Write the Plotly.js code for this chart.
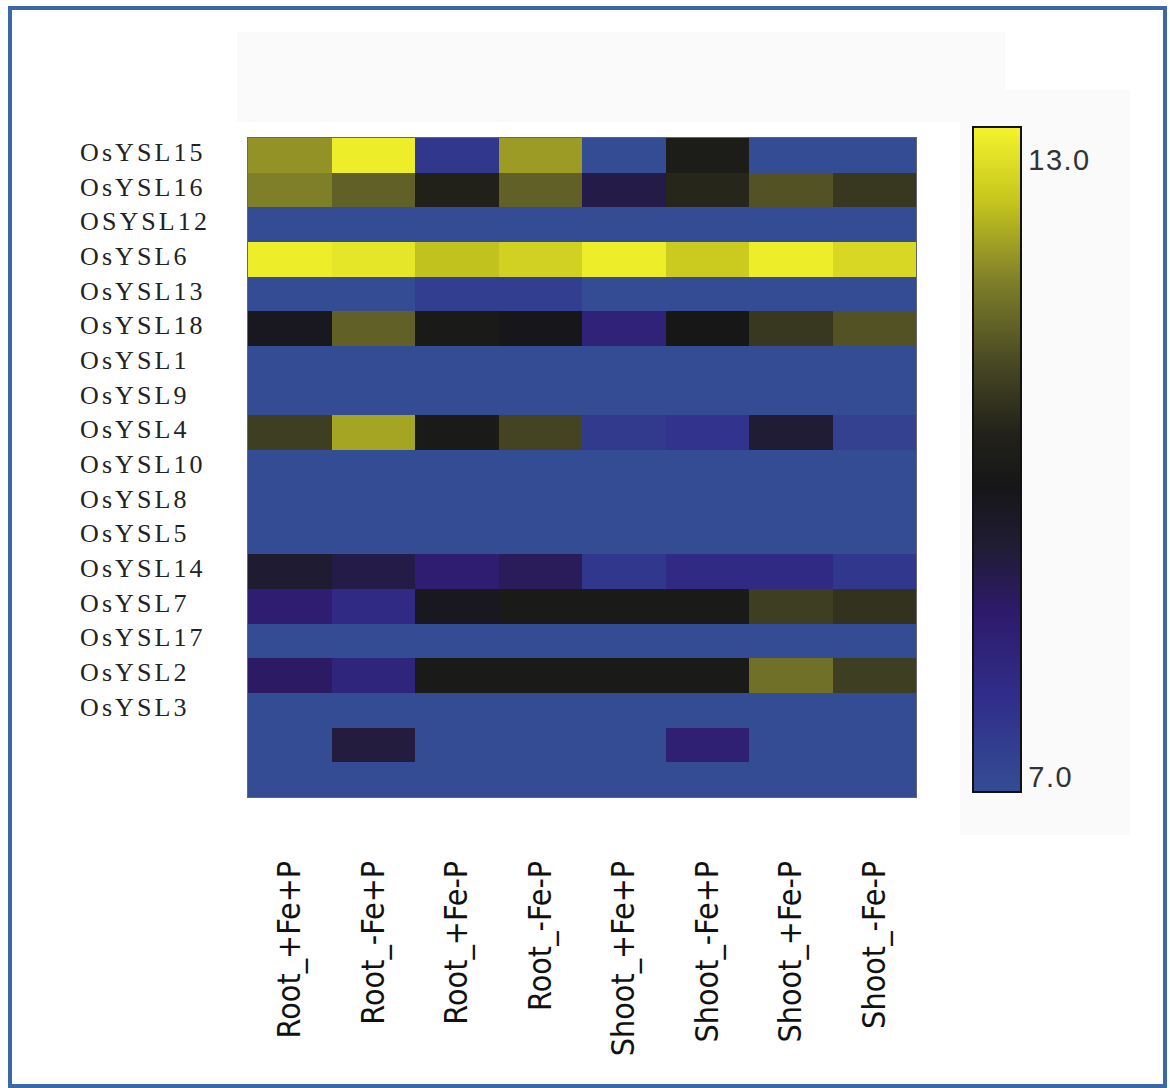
<!DOCTYPE html>
<html>
<head>
<meta charset="utf-8">
<script src="https://cdn.plot.ly/plotly-3.0.1.min.js"></script>
<style>
  html, body { margin: 0; padding: 0; background: #ffffff; }
  #wrap { position: relative; width: 1170px; height: 1088px; overflow: hidden; background: #fff; }
  #frame { position: absolute; left: 8px; top: 6px; width: 1151px; height: 1074px;
           border: 4px solid #3d68a6; box-sizing: content-box; pointer-events: none; z-index: 5; }
  .shade { position: absolute; background: #fafafa; }
  #chart { position: absolute; left: 0; top: 0; width: 1170px; height: 1088px; }
  .annotation-text { letter-spacing: 3.1px; }
  .cbaxis text { letter-spacing: 1.5px; }
</style>
</head>
<body>
<div id="wrap">
  <div class="shade" style="left:237px;top:32px;width:768px;height:90px;"></div>
  <div class="shade" style="left:960px;top:90px;width:170px;height:745px;"></div>
  <div id="chart"></div>
  <div id="frame"></div>
</div>
<script>
// Conditions (columns)
const conditions = ['Root_+Fe+P', 'Root_-Fe+P', 'Root_+Fe-P', 'Root_-Fe-P',
                    'Shoot_+Fe+P', 'Shoot_-Fe+P', 'Shoot_+Fe-P', 'Shoot_-Fe-P'];

// Gene labels (rows, top to bottom); the last two rows have no label
const genes = ['OsYSL15', 'OsYSL16', 'OSYSL12', 'OsYSL6', 'OsYSL13', 'OsYSL18', 'OsYSL1',
               'OsYSL9', 'OsYSL4', 'OsYSL10', 'OsYSL8', 'OsYSL5', 'OsYSL14', 'OsYSL7',
               'OsYSL17', 'OsYSL2', 'OsYSL3', '', ''];

// Expression values per condition (one value per row, top to bottom)
const rootFePlusPPlus   = [11.8, 11.6, 7.0, 12.9, 7.0, 9.6, 7.0, 7.0, 10.7, 7.0, 7.0, 7.0, 9.3, 8.5, 7.0, 8.7, 7.0, 7.0, 7.0];
const rootFeMinusPPlus  = [12.9, 11.2, 7.0, 12.8, 7.0, 11.2, 7.0, 7.0, 12.0, 7.0, 7.0, 7.0, 9.0, 8.0, 7.0, 8.2, 7.0, 9.1, 7.0];
const rootFePlusPMinus  = [7.6, 10.2, 7.0, 12.3, 7.4, 9.9, 7.0, 7.0, 9.9, 7.0, 7.0, 7.0, 8.5, 9.6, 7.0, 9.9, 7.0, 7.0, 7.0];
const rootFeMinusPMinus = [11.9, 11.2, 7.0, 12.5, 7.4, 9.7, 7.0, 7.0, 10.8, 7.0, 7.0, 7.0, 8.8, 9.9, 7.0, 9.9, 7.0, 7.0, 7.0];
const shootFePlusPPlus  = [7.0, 9.0, 7.0, 12.9, 7.0, 8.3, 7.0, 7.0, 7.5, 7.0, 7.0, 7.0, 7.6, 9.9, 7.0, 9.9, 7.0, 7.0, 7.0];
const shootFeMinusPPlus = [10.0, 10.3, 7.0, 12.4, 7.0, 9.8, 7.0, 7.0, 7.7, 7.0, 7.0, 7.0, 8.0, 9.9, 7.0, 9.9, 7.0, 8.4, 7.0];
const shootFePlusPMinus = [7.0, 11.0, 7.0, 12.9, 7.0, 10.6, 7.0, 7.0, 9.2, 7.0, 7.0, 7.0, 8.0, 10.7, 7.0, 11.4, 7.0, 7.0, 7.0];
const shootFeMinusPMinus= [7.0, 10.6, 7.0, 12.6, 7.0, 11.0, 7.0, 7.0, 7.3, 7.0, 7.0, 7.0, 7.6, 10.5, 7.0, 10.7, 7.0, 7.0, 7.0];

// Colour scale range and colour bar labels
const zMin = 7.0, zMax = 13.0;
const cbTickText = ['13.0', '7.0'];

const columns = [rootFePlusPPlus, rootFeMinusPPlus, rootFePlusPMinus, rootFeMinusPMinus,
                 shootFePlusPPlus, shootFeMinusPPlus, shootFePlusPMinus, shootFeMinusPMinus];
const rowIdx = genes.map((g, i) => i);
const z = rowIdx.map(r => columns.map(col => col[r]));

const colorscale = [
  [0.00, 'rgb(52,76,148)'],
  [0.14, 'rgb(48,46,138)'],
  [0.27, 'rgb(46,26,108)'],
  [0.37, 'rgb(32,28,52)'],
  [0.46, 'rgb(22,22,24)'],
  [0.54, 'rgb(34,34,26)'],
  [0.64, 'rgb(70,70,36)'],
  [0.77, 'rgb(128,128,42)'],
  [0.89, 'rgb(198,198,30)'],
  [1.00, 'rgb(244,244,44)']
];

// plot area in pixels: x 248..916, y 138..797
const trace = {
  type: 'heatmap',
  x: conditions,
  y: rowIdx,
  z: z,
  zmin: zMin,
  zmax: zMax,
  colorscale: colorscale,
  hoverongaps: false,
  colorbar: {
    thickness: 48, thicknessmode: 'pixels',
    len: 665, lenmode: 'pixels',
    x: (973 - 248) / 668, xanchor: 'left',
    y: (797 - 127) / 659, yanchor: 'top',
    xpad: 0, ypad: 0,
    outlinewidth: 2, outlinecolor: '#111',
    tickvals: [12.7, 7.14],
    ticktext: cbTickText,
    ticks: '',
    ticklabelstandoff: 18,
    tickfont: { family: 'Liberation Sans, Arial, sans-serif', size: 29, color: '#333' }
  }
};

const annotations = genes.filter(g => g !== '').map((g, i) => ({
  xref: 'paper', yref: 'y',
  x: -0.2545, y: i, xanchor: 'left', yanchor: 'middle', yshift: 3,
  text: g, showarrow: false,
  font: { family: 'Liberation Serif, Times New Roman, serif', size: 26, color: '#222' }
}));

const layout = {
  width: 1170, height: 1088,
  margin: { l: 248, r: 254, t: 138, b: 291, pad: 0 },
  paper_bgcolor: 'rgba(0,0,0,0)',
  plot_bgcolor: 'rgba(0,0,0,0)',
  xaxis: {
    type: 'category',
    tickangle: -90,
    ticks: '',
    ticklabelstandoff: 50,
    tickfont: { family: 'DejaVu Sans Condensed, Liberation Sans, Arial, sans-serif', size: 32, color: '#111' },
    showline: true, mirror: true, linecolor: '#666', linewidth: 1,
    showgrid: false, zeroline: false, fixedrange: true
  },
  yaxis: {
    range: [genes.length - 0.5, -0.5],
    showticklabels: false, ticks: '',
    showline: true, mirror: true, linecolor: '#666', linewidth: 1,
    showgrid: false, zeroline: false, fixedrange: true
  },
  annotations: annotations,
  showlegend: false
};

Plotly.newPlot('chart', [trace], layout, { displayModeBar: false, staticPlot: true });
</script>
</body>
</html>
